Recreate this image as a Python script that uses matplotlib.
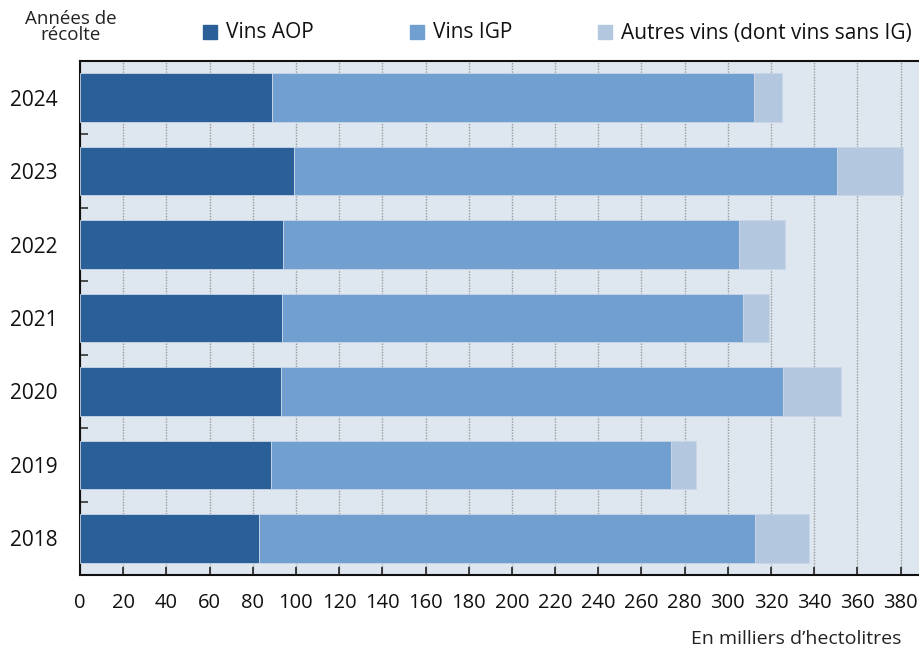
import matplotlib
matplotlib.use("Agg")
import numpy as np
import matplotlib.pyplot as plt
from matplotlib.patches import Rectangle

plt.rcParams['font.family'] = ['Open Sans', 'DejaVu Sans']

years = ['2018', '2019', '2020', '2021', '2022', '2023', '2024']
aop = [83.0, 88.5, 93.2, 93.6, 94.2, 99.2, 89.0]
igp = [229.4, 185.4, 232.5, 213.3, 211.2, 251.2, 223.3]
autres = [25.3, 11.4, 26.8, 12.0, 21.2, 30.9, 12.6]
series_names = ['Vins AOP', 'Vins IGP', 'Autres vins (dont vins sans IG)']
colors = ['#2b5f98', '#709fd0', '#b3c7df']

fig = plt.figure(figsize=(9.2, 6.5), dpi=100)
ax = fig.add_axes([80 / 920, 1 - 575 / 650, 1 - 80 / 920, (575 - 61) / 650])
ax.set_facecolor('#dee6ef')

y = np.arange(len(years))
left = np.zeros(len(years))
for vals, col, name in zip([aop, igp, autres], colors, series_names):
    ax.barh(y, vals, left=left, height=0.66, color=col, edgecolor='#c9d6e6',
            linewidth=0.6, label=name, zorder=3)
    left = left + np.array(vals)

ax.set_xlim(0, 389)
ax.set_ylim(-0.5, len(years) - 0.5)
ax.set_xticks(np.arange(0, 381, 20))
ax.set_yticks(y)
ax.set_yticklabels(years)
ax.set_yticks(np.arange(-0.5, len(years), 1), minor=True)

ax.xaxis.grid(True, linestyle=(0, (1, 1)), color='#9a9a9a', linewidth=1.0, zorder=0)
ax.set_axisbelow(True)

ax.tick_params(axis='x', direction='in', length=6, width=1.2, color='#222222',
               labelsize=14.5, pad=13, labelcolor='#111111')
ax.tick_params(axis='y', which='major', length=0, labelsize=15, pad=16,
               labelcolor='#111111')
ax.tick_params(axis='y', which='minor', direction='in', length=6, width=1.2,
               color='#333333')

for s in ['left', 'bottom', 'top']:
    ax.spines[s].set_color('#111111')
    ax.spines[s].set_linewidth(1.5)
ax.spines['right'].set_visible(False)

# legend
leg_x = [203, 410, 598]
for lx, col, name in zip(leg_x, colors, series_names):
    fig.patches.append(Rectangle((lx / 920, 1 - 39 / 650), 14 / 920, 14 / 650,
                                 transform=fig.transFigure, color=col))
    fig.text((lx + 23) / 920, 1 - 33 / 650, name, fontsize=15, va='center',
             ha='left', color='#111111')

fig.text(71 / 920, 1 - 27 / 650, 'Années de\nrécolte', fontsize=13.5,
         ha='center', va='center', linespacing=0.8, color='#222222')
fig.text(901 / 920, 1 - 639 / 650, 'En milliers d\u2019hectolitres', fontsize=14,
         ha='right', va='center', color='#222222')

fig.savefig('out.png', dpi=100)
